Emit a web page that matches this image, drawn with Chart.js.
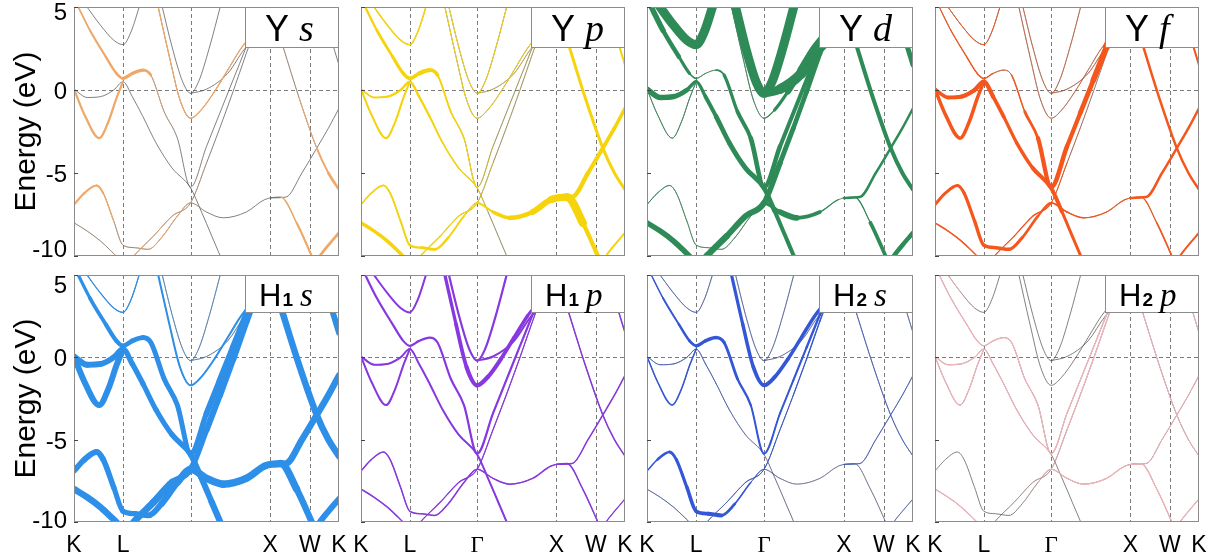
<!DOCTYPE html>
<html>
<head>
<meta charset="utf-8">
<script src="https://cdn.jsdelivr.net/npm/chart.js@4.4.0/dist/chart.umd.min.js"></script>
<style>
  html, body { margin: 0; padding: 0; background: #fff; }
  #wrap { position: relative; width: 1209px; height: 557px; overflow: hidden; }
  #wrap canvas { position: absolute; }
</style>
</head>
<body>
<div id="wrap"></div>
<script>
// k-path K-L-Γ-X-W-K as fraction of total path length
const kTicks = [0, 0.185, 0.44, 0.74, 0.89, 1];
const kLabels = ['K', 'L', 'Γ', 'X', 'W', 'K'];
const energyTicks = [-10, -5, 0, 5];

// band energies, [k, E in eV]
const bandLow1 = [[0, -8.0], [0.05, -8.5], [0.1, -9.1], [0.14, -9.7], [0.165, -10.1], [0.185, -10.5]];
const bandLow2 = [[0, -6.9], [0.04, -6.2], [0.085, -5.75], [0.11, -6.2], [0.15, -7.9], [0.185, -9.35], [0.23, -9.5],
  [0.28, -9.6], [0.33, -8.9], [0.39, -7.6], [0.44, -6.8], [0.5, -7.35], [0.563, -7.7], [0.65, -7.35], [0.72, -6.6],
  [0.78, -6.45], [0.84, -8.0], [0.9, -10.1]];
const bandWK = [[0.91, -10.5], [0.928, -10], [0.96, -9.35], [1, -8.6]];
const bandLow3 = [[0.2, -10.5], [0.225, -10], [0.3, -8.8], [0.37, -7.6], [0.44, -6.8], [0.5, -4.4], [0.55, -2.3],
  [0.6, -0.1], [0.65, 2.2], [0.7, 4.4], [0.72, 5.3]];
const bandDirect = [[0, 0.05], [0.05, -0.45], [0.1, -0.4], [0.15, 0], [0.185, 0.5], [0.22, -0.4], [0.26, -1.6],
  [0.31, -3.2], [0.37, -4.7], [0.44, -5.9], [0.48, -7.3], [0.52, -8.8], [0.56, -10.3]];
const bandHump = [[0.01, 5.2], [0.06, 3.6], [0.12, 2.0], [0.16, 1.0], [0.185, 0.7], [0.22, 1.0], [0.26, 1.2],
  [0.29, 0.9], [0.34, -1.3], [0.39, -2.9], [0.44, -5.85], [0.5, -3.4], [0.55, -1.4], [0.6, 0.6], [0.65, 2.6],
  [0.7, 4.7], [0.71, 5.2]];
const bandVlow = [[0, 0.05], [0.04, -1.5], [0.095, -2.9], [0.13, -1.9], [0.16, -0.5], [0.185, 0.5]];
const bandVup = [[0.04, 5.2], [0.1, 3.9], [0.15, 3.0], [0.185, 2.73], [0.215, 3.5], [0.25, 5.2]];
const bandP1 = [[0.33, 5.2], [0.37, 2.6], [0.41, 0.5], [0.44, -0.2], [0.47, 0.5], [0.51, 2.5], [0.555, 5.2]];
const bandP2 = [[0.44, -0.2], [0.5, 0.05], [0.58, 1.0], [0.645, 2.5], [0.7, 3.3]];
const bandP3 = [[0.315, 5.2], [0.36, 2.0], [0.4, -0.6], [0.44, -1.7], [0.48, -1.2], [0.53, -0.1], [0.58, 1.2],
  [0.63, 2.5], [0.67, 3.3]];
const bandG = [[0.75, 4.6], [0.79, 2.55], [0.85, -0.5], [0.916, -3.5], [0.96, -5.0], [1, -6.0]];
const bandF = [[0.74, -6.5], [0.8, -6.45], [0.86, -5.0], [0.916, -3.5], [0.96, -2.3], [1, -1.1]];
const bandH = [[0.93, 5.2], [0.96, 3.6], [0.98, 2.55], [1, 1.5]];

const bands = {
  low1: bandLow1, low2: bandLow2, wk: bandWK, low3: bandLow3, direct: bandDirect, hump: bandHump,
  vlow: bandVlow, vup: bandVup, p1: bandP1, p2: bandP2, p3: bandP3, g: bandG, f: bandF, h: bandH
};

// orbital weights: a number, or [k, weight] pairs along the band
const wYs = {
  low1: 0.02, low2: [[0, 0.22], [0.1, 0.2], [0.16, 0.05], [0.2, 0.02], [0.3, 0.1], [0.44, 0.08], [0.5, 0], [0.76, 0], [0.82, 0.15], [0.9, 0.25]],
  wk: 0.28, low3: [[0.2, 0.08], [0.44, 0.06], [0.5, 0]], direct: 0,
  hump: [[0, 0.15], [0.16, 0.25], [0.22, 0.35], [0.27, 0.3], [0.32, 0.05], [0.44, 0]],
  vlow: 0.22, vup: 0, p1: 0, p2: 0, p3: 0.12, g: [[0.8, 0], [0.9, 0.12], [1, 0.3]], f: 0, h: 0
};
const wYp = {
  low1: 0.35, low2: [[0, 0.15], [0.185, 0.2], [0.27, 0.3], [0.44, 0.1], [0.5, 0.3], [0.6, 0.45], [0.74, 0.7], [0.8, 0.9], [0.85, 0.5], [0.9, 0.3]],
  wk: 0.2, low3: [[0.2, 0.15], [0.44, 0.1], [0.5, 0.03]],
  direct: [[0, 0.15], [0.185, 0.25], [0.44, 0.1], [0.5, 0.02]],
  hump: [[0, 0.2], [0.185, 0.35], [0.26, 0.45], [0.3, 0.2], [0.44, 0.1], [0.5, 0.03]],
  vlow: 0.2, vup: 0.15, p1: 0.1, p2: 0.05, p3: 0.1, g: 0.3, f: [[0.74, 0.5], [0.8, 0.45], [1, 0.35]], h: 0.2
};
const wYd = {
  low1: 0.55, low2: [[0, 0.1], [0.185, 0.05], [0.3, 0.05], [0.44, 0.1], [0.5, 0.6], [0.56, 0.55], [0.65, 0.2], [0.74, 0], [0.8, 0.05], [0.85, 0.35], [0.9, 0.4]],
  wk: 0.45, low3: [[0.2, 0.7], [0.3, 0.6], [0.44, 0.6], [0.5, 0.5], [0.6, 0.45], [0.66, 0.5]],
  direct: [[0, 0.55], [0.1, 0.55], [0.185, 0.3], [0.3, 0.5], [0.44, 0.5], [0.5, 0.4], [0.555, 0.4]],
  hump: [[0, 0.6], [0.12, 0.4], [0.185, 0.1], [0.25, 0.03], [0.3, 0.3], [0.44, 0.5], [0.5, 0.4], [0.66, 0.4]],
  vlow: 0.08, vup: 0.9, p1: 0.9, p2: [[0.44, 0.8], [0.55, 1.0], [0.68, 1.1]],
  p3: [[0.315, 0.1], [0.44, 0.05], [0.5, 0.3], [0.6, 0.8]], g: 0.4, f: 0.25, h: 0.5
};
const wYf = {
  low1: 0.15, low2: [[0, 0.3], [0.085, 0.3], [0.185, 0.35], [0.27, 0.35], [0.44, 0.2], [0.5, 0.15], [0.74, 0.1], [0.8, 0.1], [0.9, 0.2]],
  wk: 0.2, low3: [[0.2, 0.1], [0.44, 0.15], [0.5, 0.05], [0.66, 0]],
  direct: [[0, 0.35], [0.185, 0.45], [0.3, 0.3], [0.44, 0.45], [0.5, 0.3], [0.555, 0.3]],
  hump: [[0, 0.1], [0.185, 0.15], [0.26, 0.05], [0.3, 0.1], [0.44, 0.5], [0.5, 0.4], [0.6, 0.5], [0.66, 0.7]],
  vlow: 0.35, vup: 0.1, p1: 0.05, p2: 0.05, p3: 0.05, g: 0.25, f: 0.25, h: 0.2
};
const wH1s = {
  low1: 0.65, low2: [[0, 0.55], [0.085, 0.6], [0.185, 0.5], [0.28, 0.55], [0.44, 0.75], [0.563, 0.75], [0.74, 0.7], [0.8, 0.75], [0.9, 0.6]],
  wk: 0.6, low3: [[0.2, 0.5], [0.3, 0.8], [0.44, 0.55], [0.55, 0.65], [0.66, 0.7]],
  direct: [[0, 0.6], [0.185, 0.55], [0.3, 0.5], [0.44, 0.55], [0.56, 0.65]],
  hump: [[0, 0.3], [0.185, 0.45], [0.26, 0.5], [0.44, 0.5], [0.55, 0.6], [0.66, 0.65]],
  vlow: 0.6, vup: 0.12, p1: 0.05, p2: 0.04, p3: 0.2, g: 0.65, f: 0.65, h: 0.6
};
const wH1p = {
  low1: 0.15, low2: 0.15, wk: 0.12, low3: 0.12, direct: 0.2, hump: 0.22, vlow: 0.2, vup: 0.2,
  p1: 0.22, p2: 0.2, p3: [[0.315, 0.3], [0.44, 0.45], [0.6, 0.35], [0.67, 0.3]], g: 0.15, f: 0.15, h: 0.15
};
const wH2s = {
  low1: 0.05, low2: [[0, 0.1], [0.06, 0.25], [0.12, 0.3], [0.185, 0.38], [0.27, 0.4], [0.33, 0.2], [0.44, 0.05], [0.5, 0.02]],
  wk: 0.05, low3: [[0.2, 0.05], [0.44, 0.1], [0.55, 0.1], [0.66, 0.15]],
  direct: [[0, 0.05], [0.185, 0.08], [0.44, 0.02]],
  hump: [[0, 0.1], [0.12, 0.22], [0.185, 0.32], [0.26, 0.35], [0.34, 0.25], [0.44, 0.18], [0.55, 0.2], [0.66, 0.25]],
  vlow: 0.15, vup: 0.05, p1: 0.04, p2: 0.03, p3: [[0.315, 0.3], [0.44, 0.4], [0.55, 0.35], [0.67, 0.35]],
  g: 0.07, f: 0.07, h: 0.05
};
const wH2p = {
  low1: 0.12, low2: [[0, 0.03], [0.185, 0], [0.3, 0], [0.44, 0.1], [0.5, 0.12]], wk: 0.12,
  low3: [[0.2, 0], [0.44, 0.05], [0.5, 0.12]], direct: [[0, 0.12], [0.44, 0.1], [0.46, 0]],
  hump: 0.12, vlow: 0.12, vup: [[0.04, 0.1], [0.185, 0]], p1: 0, p2: 0, p3: 0, g: 0.1, f: 0.1, h: 0.1
};

const panels = [
  { tag: { atom: 'Y', sub: '', orb: 's' }, color: '#F0A868', weights: wYs },
  { tag: { atom: 'Y', sub: '', orb: 'p' }, color: '#F6D40C', weights: wYp },
  { tag: { atom: 'Y', sub: '', orb: 'd' }, color: '#2E8B57', weights: wYd },
  { tag: { atom: 'Y', sub: '', orb: 'f' }, color: '#F4561C', weights: wYf },
  { tag: { atom: 'H', sub: '1', orb: 's' }, color: '#2E8FE8', weights: wH1s, hideGamma: true },
  { tag: { atom: 'H', sub: '1', orb: 'p' }, color: '#8838E0', weights: wH1p },
  { tag: { atom: 'H', sub: '2', orb: 's' }, color: '#3357D6', weights: wH2s },
  { tag: { atom: 'H', sub: '2', orb: 'p' }, color: '#F3B3BB', weights: wH2p }
];

// layout of the 2x4 grid of plot boxes
const plotLeft = [74, 361, 647, 935];
const plotWidth = [265, 264, 266, 264];
const plotTop = [7, 275];
const plotHeight = [249, 247];
const FAT = 10;
const SANS = '"Liberation Sans", Arial, sans-serif';
const SERIF = '"Liberation Serif", "Times New Roman", serif';

function weightAt(spec, k) {
  if (typeof spec === 'number') return spec;
  if (k <= spec[0][0]) return spec[0][1];
  for (let i = 1; i < spec.length; i++) {
    if (k <= spec[i][0]) {
      const [k0, w0] = spec[i - 1];
      const [k1, w1] = spec[i];
      return w0 + (w1 - w0) * (k - k0) / (k1 - k0);
    }
  }
  return spec[spec.length - 1][1];
}

function buildDatasets(panel) {
  const sets = [];
  Object.keys(bands).forEach(name => {
    const spec = panel.weights[name] ?? 0;
    const pts = () => bands[name].map(([k, e]) => ({ x: k, y: e }));
    const midW = ctx => weightAt(spec, (ctx.p0.parsed.x + ctx.p1.parsed.x) / 2);
    sets.push({
      data: pts(), order: 2, borderColor: '#4a4a4a', borderWidth: 0.7,
      cubicInterpolationMode: 'monotone', pointRadius: 0
    });
    sets.push({
      data: pts(), order: 1, borderColor: panel.color, borderWidth: 1, borderCapStyle: 'round',
      cubicInterpolationMode: 'monotone', pointRadius: 0,
      segment: {
        borderWidth: ctx => Math.max(midW(ctx) * FAT, 0.1),
        borderColor: ctx => midW(ctx) < 0.02 ? 'rgba(0,0,0,0)' : panel.color
      }
    });
  });
  return sets;
}

function drawTag(ctx, area, row, tag) {
  const w = 94, h = row === 0 ? 41 : 38;
  const x = area.right - w, y = area.top;
  ctx.save();
  ctx.fillStyle = '#fff';
  ctx.fillRect(x, y, w, h);
  ctx.strokeStyle = '#8c8c8c';
  ctx.lineWidth = 1;
  ctx.strokeRect(Math.round(x) + 0.5, Math.round(y) + 0.5, w - 1, h - 1);
  const big = row === 0 ? 36 : 31;
  const base = y + (row === 0 ? 34 : 31);
  let tx = x + (row === 0 ? 20 : 14);
  ctx.fillStyle = '#000';
  ctx.textBaseline = 'alphabetic';
  ctx.font = big + 'px ' + SANS;
  ctx.fillText(tag.atom, tx, base);
  tx += ctx.measureText(tag.atom).width;
  if (tag.sub) {
    ctx.font = 'bold ' + Math.round(big * 0.62) + 'px ' + SANS;
    ctx.fillText(tag.sub, tx + 1, base);
    tx += ctx.measureText(tag.sub).width + 1;
  }
  ctx.font = 'italic ' + (big + 2) + 'px ' + SERIF;
  ctx.fillText(tag.orb, tx + (row === 0 ? 10 : 7), base);
  ctx.restore();
}

// energy labels sit on their ticks, the end ones nudged inside the box
const yLabelShift = [{ '-10': 1, '-5': 9, '0': 9, '5': 13 }, { '-10': 6, '-5': 9, '0': 9, '5': 18 }];

function decorPlugin(panel, row, col) {
  return {
    id: 'decor',
    beforeDatasetsDraw(chart) {
      const { ctx, chartArea: a, scales: { x, y } } = chart;
      ctx.save();
      ctx.strokeStyle = '#7a7a7a';
      ctx.lineWidth = 1;
      ctx.setLineDash([4, 3]);
      kTicks.slice(1, -1).forEach(k => {
        const px = Math.round(x.getPixelForValue(k)) + 0.5;
        ctx.beginPath(); ctx.moveTo(px, a.top); ctx.lineTo(px, a.bottom); ctx.stroke();
      });
      const py = Math.round(y.getPixelForValue(0)) + 0.5;
      ctx.beginPath(); ctx.moveTo(a.left, py); ctx.lineTo(a.right, py); ctx.stroke();
      ctx.restore();
    },
    afterDatasetsDraw(chart) {
      const { ctx, chartArea: a, scales: { y } } = chart;
      ctx.save();
      ctx.strokeStyle = '#8c8c8c';
      ctx.lineWidth = 1;
      ctx.strokeRect(Math.round(a.left) + 0.5, Math.round(a.top) + 0.5,
        Math.round(a.right - a.left) - 1, Math.round(a.bottom - a.top) - 1);
      ctx.strokeStyle = '#444';
      energyTicks.forEach(e => {
        const py = Math.round(y.getPixelForValue(e)) + 0.5;
        ctx.beginPath(); ctx.moveTo(a.left, py); ctx.lineTo(a.left + 4, py); ctx.stroke();
      });
      if (col === 0) {
        ctx.fillStyle = '#000';
        ctx.font = '24px ' + SANS;
        ctx.textAlign = 'right';
        ctx.textBaseline = 'alphabetic';
        energyTicks.forEach(e => {
          ctx.fillText(String(e), a.left - 7, y.getPixelForValue(e) + yLabelShift[row][String(e)]);
        });
      }
      ctx.restore();
      drawTag(ctx, a, row, panel.tag);
    }
  };
}

const wrap = document.getElementById('wrap');
panels.forEach((panel, i) => {
  const row = Math.floor(i / 4), col = i % 4;
  const padL = col === 0 ? 74 : 12;
  const padR = 12;
  const padT = row === 0 ? 7 : 12;
  const padB = row === 0 ? 6 : 35;
  const canvas = document.createElement('canvas');
  const cw = plotWidth[col] + padL + padR;
  const ch = plotHeight[row] + padT + padB;
  canvas.width = cw; canvas.height = ch;
  canvas.style.left = (plotLeft[col] - padL) + 'px';
  canvas.style.top = (plotTop[row] - padT) + 'px';
  canvas.style.width = cw + 'px'; canvas.style.height = ch + 'px';
  wrap.appendChild(canvas);

  const labels = kLabels.map((l, j) => (panel.hideGamma && j === 2) ? '' : l);

  new Chart(canvas, {
    type: 'line',
    data: { datasets: buildDatasets(panel) },
    options: {
      responsive: false,
      animation: false,
      events: [],
      layout: { padding: { top: padT, right: padR, left: 0, bottom: 0 } },
      plugins: { legend: { display: false }, tooltip: { enabled: false } },
      scales: {
        x: {
          type: 'linear', min: 0, max: 1,
          grid: { display: false, drawTicks: false },
          border: { display: false },
          afterBuildTicks: axis => { axis.ticks = kTicks.map(v => ({ value: v })); },
          afterFit: axis => { axis.height = padB; axis.paddingLeft = 0; axis.paddingRight = 0; },
          ticks: {
            display: row === 1,
            autoSkip: false, maxRotation: 0, minRotation: 0, padding: 10, color: '#000',
            callback: (v, j) => labels[j],
            font: ctx => ({ family: ctx.index === 2 ? SERIF : SANS, size: 23 })
          }
        },
        y: {
          min: -10, max: 5,
          grid: { display: false, drawTicks: false },
          border: { display: false },
          afterBuildTicks: axis => { axis.ticks = energyTicks.map(v => ({ value: v })); },
          afterFit: axis => { axis.width = padL; axis.paddingTop = 0; axis.paddingBottom = 0; },
          ticks: { display: false },
          title: {
            display: col === 0, text: 'Energy (eV)', color: '#000',
            font: { family: SANS, size: 30 },
            padding: { top: 9, bottom: 0 }
          }
        }
      }
    },
    plugins: [decorPlugin(panel, row, col)]
  });
});
</script>
</body>
</html>
